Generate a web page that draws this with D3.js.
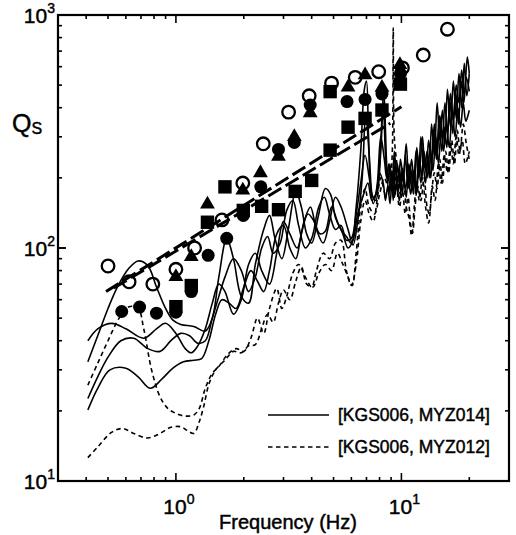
<!DOCTYPE html>
<html><head><meta charset="utf-8">
<script src="https://cdn.jsdelivr.net/npm/d3@7"></script>
<style>body{margin:0;background:#fff}svg{display:block}text{font-family:"Liberation Sans",Arial,sans-serif;fill:#000;stroke:#000;stroke-width:0.45px}</style>
</head><body><svg id="c" width="516" height="535"></svg>
<script>
// ---- data ----
const xTickLabels = [{v:1,e:"0"},{v:10,e:"1"}];
const yTickLabels = [{v:10,e:"1"},{v:100,e:"2"},{v:1000,e:"3"}];
const legendLabels = ["[KGS006, MYZ014]","[KGS006, MYZ012]"];

const solid1 = [[0.407,32.5],[0.45,42],[0.5,55],[0.55,68],[0.62,82],[0.68,88],[0.75,84],[0.82,68],[0.9,55],[0.97,49],[1.05,47],[1.2,46],[1.35,44],[1.45,50],[1.55,75],[1.68,110],[1.8,90],[1.95,62],[2.1,58],[2.25,85],[2.45,120],[2.6,138],[2.75,110],[2.95,90],[3.15,120],[3.4,175],[3.6,150],[3.8,115],[4.0,105],[4.3,140],[4.6,180],[4.85,170],[5.1,135],[5.4,120],[5.7,112],[6.0,105],[6.3,150],[6.6,260],[6.85,480],[7.0,520],[7.15,300],[7.4,170],[7.7,160],[8.0,230],[8.3,420],[8.5,250],[8.7,190],[8.9,230],[9.1,180],[9.3,260],[9.5,200],[9.7,175],[9.9,240],[10.2,200],[10.5,280],[10.8,190],[11.1,240],[11.4,185],[11.7,270],[12.0,210],[12.4,300],[12.7,220],[13.0,260],[13.3,200],[13.6,340],[14.0,250],[14.4,420],[14.8,290],[15.2,390],[15.6,280],[16.0,480],[16.5,330],[17.0,520],[17.5,360],[18.0,560],[18.5,400],[19.0,620],[19.5,450],[20,560]];
const solid2 = [[0.407,40],[0.45,45],[0.52,47.5],[0.6,45],[0.72,41],[0.82,45],[0.9,47.5],[1.0,43],[1.1,37],[1.17,35.5],[1.25,38],[1.35,45],[1.45,58],[1.55,70],[1.65,65],[1.8,52],[1.95,60],[2.1,85],[2.25,95],[2.4,80],[2.6,70],[2.8,95],[3.0,130],[3.2,115],[3.45,100],[3.7,130],[3.95,150],[4.2,120],[4.5,105],[4.8,130],[5.1,165],[5.4,150],[5.8,120],[6.1,103],[6.4,130],[6.7,200],[6.95,380],[7.2,250],[7.5,165],[7.8,175],[8.1,260],[8.35,480],[8.6,230],[8.8,170],[9.0,210],[9.2,160],[9.4,240],[9.6,190],[9.8,220],[10.1,170],[10.4,250],[10.7,180],[11.0,220],[11.3,170],[11.6,260],[11.9,200],[12.2,300],[12.5,230],[12.8,190],[13.1,250],[13.5,200],[13.9,320],[14.3,240],[14.7,360],[15.1,260],[15.5,330],[15.9,270],[16.4,430],[16.9,310],[17.4,470],[17.9,340],[18.4,520],[18.9,420],[19.4,540],[20,470]];
const solid3 = [[0.407,22.6],[0.45,28],[0.5,34],[0.57,40],[0.65,41],[0.75,37],[0.85,36],[0.95,40],[1.05,43],[1.15,42],[1.25,39],[1.35,40],[1.45,50],[1.55,62],[1.65,75],[1.8,90],[1.95,80],[2.1,65],[2.25,75],[2.4,100],[2.55,112],[2.7,95],[2.9,105],[3.1,145],[3.3,160],[3.5,125],[3.75,100],[4.0,110],[4.3,150],[4.55,165],[4.8,140],[5.1,120],[5.4,125],[5.7,108],[6.0,110],[6.3,140],[6.6,190],[6.9,250],[7.2,200],[7.5,155],[7.8,185],[8.1,300],[8.4,240],[8.6,200],[8.8,230],[9.0,175],[9.2,210],[9.4,170],[9.6,230],[9.9,180],[10.2,210],[10.5,165],[10.8,230],[11.1,180],[11.4,210],[11.7,175],[12.0,250],[12.3,200],[12.6,260],[12.9,210],[13.2,290],[13.6,230],[14.0,340],[14.4,250],[14.8,370],[15.2,300],[15.6,420],[16.0,310],[16.5,460],[17.0,360],[17.5,500],[18.0,420],[18.5,580],[19.0,450],[19.6,660],[20,560]];
const solid4 = [[0.407,20.2],[0.45,25],[0.51,30],[0.6,30.5],[0.68,28],[0.77,25],[0.87,27.5],[0.97,30.5],[1.08,32.5],[1.2,33],[1.3,33.5],[1.4,40],[1.5,52],[1.6,60],[1.72,58],[1.85,55],[2.0,68],[2.15,80],[2.3,72],[2.45,65],[2.6,80],[2.8,115],[3.0,125],[3.2,100],[3.4,90],[3.6,115],[3.85,140],[4.1,130],[4.35,115],[4.6,118],[4.9,150],[5.2,130],[5.5,115],[5.8,100],[6.1,108],[6.4,140],[6.8,170],[7.1,190],[7.4,160],[7.7,170],[8.0,210],[8.3,190],[8.5,160],[8.7,185],[8.9,155],[9.1,200],[9.3,165],[9.5,185],[9.8,160],[10.1,220],[10.4,180],[10.7,200],[11.0,170],[11.3,215],[11.6,175],[11.9,230],[12.2,190],[12.6,250],[13.0,200],[13.4,270],[13.8,215],[14.2,300],[14.6,230],[15.0,320],[15.4,260],[15.8,340],[16.3,270],[16.8,380],[17.3,300],[17.8,400],[18.3,330],[18.8,420],[19.3,350],[20,390]];
const dashed1 = [[0.407,25.8],[0.45,32],[0.5,40],[0.56,50],[0.62,56],[0.68,55],[0.72,45],[0.78,30],[0.85,23],[0.92,20.5],[1.0,19.5],[1.1,19],[1.2,19.2],[1.27,20.5],[1.35,25],[1.45,29],[1.55,31],[1.7,35],[1.85,37],[2.0,36],[2.15,41],[2.3,50],[2.45,43],[2.6,55],[2.8,67],[2.95,55],[3.1,62],[3.3,78],[3.5,85],[3.75,75],[4.0,68],[4.2,80],[4.5,95],[4.8,90],[5.1,105],[5.4,108],[5.7,80],[6.0,69],[6.3,85],[6.6,130],[6.9,160],[7.2,140],[7.5,130],[7.8,160],[8.1,200],[8.5,170],[8.9,190],[9.1,250],[9.2,880],[9.3,300],[9.6,220],[9.9,170],[10.2,200],[10.5,150],[10.8,135],[11.1,113],[11.4,150],[11.7,190],[12.0,160],[12.4,200],[12.8,150],[13.2,128],[13.6,170],[14.0,210],[14.4,180],[14.8,240],[15.2,190],[15.7,260],[16.2,210],[16.7,290],[17.2,230],[17.7,320],[18.2,260],[18.8,340],[19.4,280],[20,240]];
const dashed2 = [[0.407,12.6],[0.45,14],[0.52,16.2],[0.58,16.8],[0.65,16],[0.75,15.3],[0.85,16],[0.95,17],[1.05,17.1],[1.12,16.5],[1.2,16],[1.27,18],[1.33,21],[1.4,26],[1.5,30],[1.65,33],[1.8,36],[1.95,35.5],[2.1,38],[2.25,38.5],[2.4,45],[2.55,52],[2.7,48],[2.85,58],[3.0,66],[3.2,60],[3.4,72],[3.6,83],[3.8,70],[4.05,68],[4.3,78],[4.6,85],[4.9,80],[5.2,95],[5.5,85],[5.8,75],[6.05,69],[6.3,95],[6.6,150],[6.9,180],[7.2,150],[7.6,140],[8.0,170],[8.4,200],[8.8,180],[9.2,220],[9.5,190],[9.8,150],[10.1,175],[10.4,140],[10.7,165],[11.0,125],[11.2,116],[11.5,150],[11.8,185],[12.2,160],[12.6,200],[13.0,150],[13.3,140],[13.7,185],[14.1,160],[14.6,230],[15.0,190],[15.5,250],[16.0,210],[16.5,280],[17.0,230],[17.5,300],[18.0,250],[18.6,290],[19.2,230],[20,260]];

const openCircles = [[0.5,83.7],[0.62,71.6],[0.79,70],[1.0,81],[1.21,100],[1.6,132],[1.98,190],[2.44,280],[3.16,383],[3.9,450],[4.9,510],[6.24,540],[7.93,571],[10.1,593],[12.5,673],[16.0,869]];
const filledCircles = [[0.575,53.4],[0.69,55.8],[0.82,52.5],[1.0,53],[1.17,65],[1.39,93],[1.68,110],[1.99,138],[2.38,183],[2.85,265],[3.35,284],[3.94,411],[5.74,425],[6.9,434],[8.2,458],[9.9,560]];
const triangles = [[1.0,75.3],[1.17,91.7],[1.38,154],[1.98,177],[2.37,210],[2.85,247],[3.35,300],[3.94,380],[5.8,490],[6.9,553],[8.2,488],[9.85,612]];
const squares = [[1.0,56],[1.17,69],[1.38,129],[1.65,183],[1.99,145],[2.4,151],[2.85,146],[3.38,175],[4.0,195],[4.83,263],[4.83,469],[5.8,330],[6.9,360],[8.2,391],[9.9,505]];
const fitA = [[0.49,65],[10,404]];
const fitB = [[0.53,67.3],[8.93,343]];

// ---- drawing ----
const svg = d3.select("#c");
const L=58,R=509,T=15,B=481;
const x = d3.scaleLog().domain([0.3,30]).range([L,R]);
const y = d3.scaleLog().domain([10,1000]).range([B,T]);
const g = svg.append("g");

const line = d3.line().x(d=>x(d[0])).y(d=>y(d[1])).curve(d3.curveCatmullRom.alpha(0.5));
svg.append("clipPath").attr("id","cp").append("rect").attr("x",L).attr("y",T).attr("width",R-L).attr("height",B-T);
const pg = g.append("g").attr("clip-path","url(#cp)");

[solid1,solid2,solid3,solid4].forEach(s=>pg.append("path").attr("d",line(s)).attr("fill","none").attr("stroke","#000").attr("stroke-width",1.6));
[dashed1,dashed2].forEach(s=>pg.append("path").attr("d",line(s)).attr("fill","none").attr("stroke","#000").attr("stroke-width",1.6).attr("stroke-dasharray","4.5,3.5"));

const lin = d3.line().x(d=>x(d[0])).y(d=>y(d[1]));
[fitA,fitB].forEach(s=>pg.append("path").attr("d",lin(s)).attr("fill","none").attr("stroke","#000").attr("stroke-width",3).attr("stroke-dasharray","15,5"));

// markers
pg.selectAll(".sq").data(squares).join("rect").attr("x",d=>x(d[0])-6.7).attr("y",d=>y(d[1])-6.7).attr("width",13.4).attr("height",13.4).attr("fill","#000");
pg.selectAll(".fc").data(filledCircles).join("circle").attr("cx",d=>x(d[0])).attr("cy",d=>y(d[1])).attr("r",6.5).attr("fill","#000");
const tri = d3.symbol().type(d3.symbolTriangle).size(95);
pg.selectAll(".tr").data(triangles).join("path").attr("transform",d=>`translate(${x(d[0])},${y(d[1])})`).attr("d",tri).attr("fill","#000");
pg.selectAll(".oc").data(openCircles).join("circle").attr("cx",d=>x(d[0])).attr("cy",d=>y(d[1])).attr("r",6.3).attr("fill","none").attr("stroke","#000").attr("stroke-width",2.3);

// axes (ticks inward on all four sides)
const xt = [0.3,0.4,0.5,0.6,0.7,0.8,0.9,1,2,3,4,5,6,7,8,9,10,20,30];
const yt = [];
for(const d of [10,100]) for(let k=1;k<=10;k++) yt.push(d*k);
const isMajor = v => Math.abs(Math.log10(v)-Math.round(Math.log10(v)))<1e-9;
const ax = g.append("g").attr("stroke","#000").attr("stroke-width",1.6);
xt.forEach(v=>{const len=isMajor(v)?8:4;const X=x(v);
  ax.append("line").attr("x1",X).attr("x2",X).attr("y1",B).attr("y2",B-len);
  ax.append("line").attr("x1",X).attr("x2",X).attr("y1",T).attr("y2",T+len);});
yt.forEach(v=>{const len=isMajor(v)?8:4;const Y=y(v);
  ax.append("line").attr("x1",L).attr("x2",L+len).attr("y1",Y).attr("y2",Y);
  ax.append("line").attr("x1",R).attr("x2",R-len).attr("y1",Y).attr("y2",Y);});
g.append("rect").attr("x",L).attr("y",T).attr("width",R-L).attr("height",B-T).attr("fill","none").attr("stroke","#000").attr("stroke-width",2.2);

// tick labels
const fs=21;
yTickLabels.forEach(t=>{
  const tx=g.append("text").attr("x",55).attr("y",y(t.v)+8).attr("text-anchor","end").attr("font-size",fs);
  tx.append("tspan").text("10");
  tx.append("tspan").attr("dy",-10).attr("font-size",14).text(t.e);
});
xTickLabels.forEach(t=>{
  const tx=g.append("text").attr("x",x(t.v)+3).attr("y",514).attr("text-anchor","middle").attr("font-size",fs);
  tx.append("tspan").text("10");
  tx.append("tspan").attr("dy",-10).attr("font-size",14).text(t.e);
});
// axis titles
g.append("text").attr("x",288).attr("y",529).attr("text-anchor","middle").attr("font-size",20).text("Frequency (Hz)");
const qt=g.append("text").attr("x",12).attr("y",132).attr("font-size",25);
qt.append("tspan").text("Q");
qt.append("tspan").attr("dy",2).attr("font-size",16).text("S");

// legend
const lg=[{y:415,dash:null},{y:447,dash:"4.5,3.5"}];
lg.forEach((d,i)=>{
  g.append("line").attr("x1",268).attr("x2",329).attr("y1",d.y).attr("y2",d.y).attr("stroke","#000").attr("stroke-width",1.6).attr("stroke-dasharray",d.dash);
  g.append("text").attr("x",338).attr("y",d.y+6).attr("font-size",17.5).text(legendLabels[i]);
});
</script></body></html>
